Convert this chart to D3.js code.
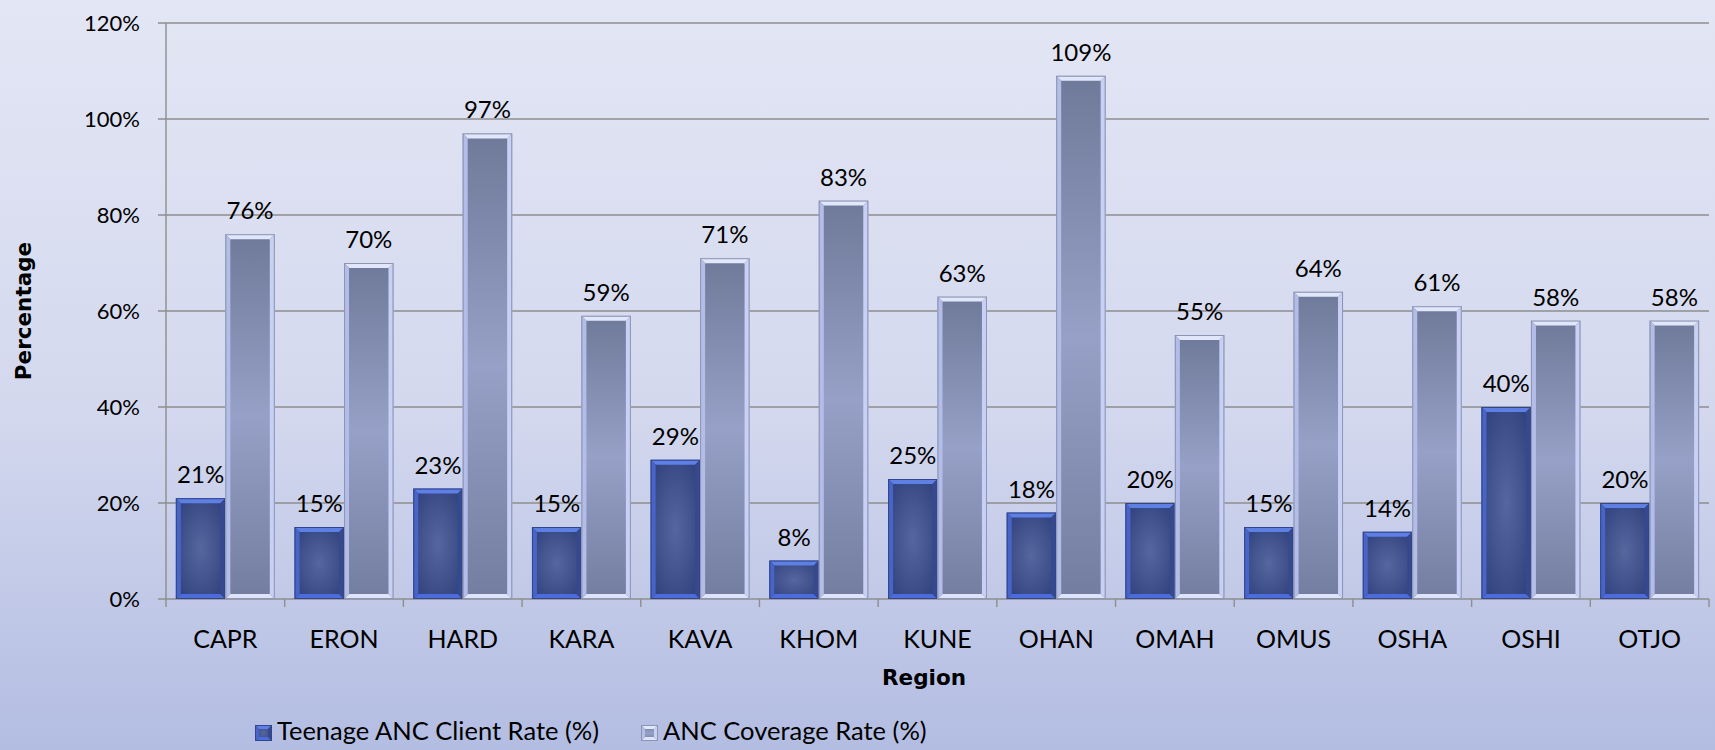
<!DOCTYPE html>
<html>
<head>
<meta charset="utf-8">
<script src="https://cdn.jsdelivr.net/npm/d3@7"></script>
<style>
  html, body { margin: 0; padding: 0; overflow: hidden; }
  svg { display: block; }
</style>
</head>
<body>
<svg id="chart"></svg>
<script>
const width = 1715;
const height = 750;

// data
const regions = ["CAPR", "ERON", "HARD", "KARA", "KAVA", "KHOM", "KUNE", "OHAN", "OMAH", "OMUS", "OSHA", "OSHI", "OTJO"];
const teenRate = [21, 15, 23, 15, 29, 8, 25, 18, 20, 15, 14, 40, 20];
const coverageRate = [76, 70, 97, 59, 71, 83, 63, 109, 55, 64, 61, 58, 58];
const seriesNames = ["Teenage ANC Client Rate (%)", "ANC Coverage Rate (%)"];
const yTicks = [0, 20, 40, 60, 80, 100, 120];

const margin = { top: 23, left: 166, right: 6, bottom: 151 };
const labelFont = "Lato, 'Open Sans', sans-serif";
const titleFont = "'DejaVu Sans', sans-serif";

const svg = d3.select("#chart")
  .attr("width", width)
  .attr("height", height)
  .attr("font-family", labelFont);
const defs = svg.append("defs");

// background gradient
const bg = defs.append("linearGradient").attr("id", "bg").attr("x1", 0).attr("y1", 0).attr("x2", 0).attr("y2", 1);
bg.append("stop").attr("offset", "0%").attr("stop-color", "#e3e6f4");
bg.append("stop").attr("offset", "55%").attr("stop-color", "#d3d8ee");
bg.append("stop").attr("offset", "100%").attr("stop-color", "#b3bde2");
svg.append("rect").attr("width", width).attr("height", height).attr("fill", "url(#bg)");

// bar fills
const darkFill = defs.append("radialGradient").attr("id", "darkFill").attr("cx", 0.5).attr("cy", 0.5).attr("r", 0.7);
darkFill.append("stop").attr("offset", "0%").attr("stop-color", "#56679f");
darkFill.append("stop").attr("offset", "100%").attr("stop-color", "#2d3d7a");

const lightFill = defs.append("linearGradient").attr("id", "lightFill").attr("x1", 0).attr("y1", 0).attr("x2", 0).attr("y2", 1);
lightFill.append("stop").attr("offset", "0%").attr("stop-color", "#6f7999");
lightFill.append("stop").attr("offset", "50%").attr("stop-color", "#97a1c7");
lightFill.append("stop").attr("offset", "100%").attr("stop-color", "#737d9f");

const styles = [
  { fill: "url(#darkFill)", top: "#5e7fe4", left: "#4764c6", right: "#36498f", bottom: "#4c6cdb", edge: "#34468a" },
  { fill: "url(#lightFill)", top: "#e1e7fb", left: "#b3bde8", right: "#c8d1f5", bottom: "#dce3fa", edge: "#8c95b2" },
];

const x = d3.scaleBand().domain(regions).range([margin.left, width - margin.right]).paddingInner(0).paddingOuter(0);
const x1 = d3.scaleBand().domain([0, 1]).range([0, x.bandwidth()]).paddingOuter(0.2).paddingInner(0);
const y = d3.scaleLinear().domain([0, 120]).range([height - margin.bottom, margin.top]);

// gridlines
svg.append("g")
  .selectAll("line")
  .data(yTicks)
  .join("line")
  .attr("x1", margin.left - 8)
  .attr("x2", width - margin.right)
  .attr("y1", (d) => y(d))
  .attr("y2", (d) => y(d))
  .attr("stroke", "#8e8e8e")
  .attr("stroke-width", 1.4);

// y axis labels
svg.append("g")
  .selectAll("text")
  .data(yTicks)
  .join("text")
  .attr("x", margin.left - 26)
  .attr("y", (d) => y(d))
  .attr("dy", "0.36em")
  .attr("text-anchor", "end")
  .attr("font-size", 22)
  .text((d) => d + "%");

// y axis line
svg.append("line")
  .attr("x1", margin.left).attr("x2", margin.left)
  .attr("y1", y(120)).attr("y2", y(0) + 8)
  .attr("stroke", "#8e8e8e").attr("stroke-width", 1.4);

// x ticks at band boundaries
const boundaries = regions.map((r) => x(r) + x.bandwidth());
svg.append("g")
  .selectAll("line")
  .data(boundaries)
  .join("line")
  .attr("x1", (d) => d).attr("x2", (d) => d)
  .attr("y1", y(0)).attr("y2", y(0) + 8)
  .attr("stroke", "#8e8e8e").attr("stroke-width", 1.4);

// bevelled bar drawing
function drawBevelBar(g, bx0, bx1, by0, by1, st, b) {
  const bb = Math.min(b, (by1 - by0) / 2);
  g.append("rect").attr("x", bx0).attr("y", by0).attr("width", bx1 - bx0).attr("height", by1 - by0).attr("fill", st.fill);
  const polys = [
    { pts: [[bx0, by0], [bx1, by0], [bx1 - b, by0 + bb], [bx0 + b, by0 + bb]], c: st.top },
    { pts: [[bx0, by1], [bx1, by1], [bx1 - b, by1 - bb], [bx0 + b, by1 - bb]], c: st.bottom },
    { pts: [[bx0, by0], [bx0 + b, by0 + bb], [bx0 + b, by1 - bb], [bx0, by1]], c: st.left },
    { pts: [[bx1, by0], [bx1 - b, by0 + bb], [bx1 - b, by1 - bb], [bx1, by1]], c: st.right },
  ];
  g.selectAll(null)
    .data(polys)
    .join("polygon")
    .attr("points", (p) => p.pts.map((q) => q.join(",")).join(" "))
    .attr("fill", (p) => p.c);
  g.append("rect").attr("x", bx0 + 0.5).attr("y", by0 + 0.5).attr("width", bx1 - bx0 - 1).attr("height", by1 - by0 - 1)
    .attr("fill", "none").attr("stroke", st.edge).attr("stroke-width", 1);
}

const series = [teenRate, coverageRate];
const barGroup = svg.append("g");
regions.forEach((r, i) => {
  series.forEach((vals, s) => {
    const bx0 = x(r) + x1(s);
    const bx1 = bx0 + x1.bandwidth();
    drawBevelBar(barGroup.append("g"), bx0, bx1, y(vals[i]), y(0), styles[s], 5);
  });
});

// value labels
const labelGroup = svg.append("g");
series.forEach((vals, s) => {
  labelGroup.selectAll(null)
    .data(regions)
    .join("text")
    .attr("x", (r) => x(r) + x1(s) + x1.bandwidth() / 2)
    .attr("y", (r, i) => y(vals[i]) - 15)
    .attr("text-anchor", "middle")
    .attr("font-size", 24)
    .text((r, i) => vals[i] + "%");
});

// category labels
svg.append("g")
  .selectAll("text")
  .data(regions)
  .join("text")
  .attr("x", (r) => x(r) + x.bandwidth() / 2)
  .attr("y", y(0) + 49)
  .attr("text-anchor", "middle")
  .attr("font-size", 25)
  .text((r) => r);

// axis titles
svg.append("text")
  .attr("x", 924)
  .attr("y", 685)
  .attr("text-anchor", "middle")
  .attr("font-family", titleFont)
  .attr("font-weight", "bold")
  .attr("font-size", 21.5)
  .text("Region");

svg.append("text")
  .attr("transform", `translate(31, ${y(60)}) rotate(-90)`)
  .attr("text-anchor", "middle")
  .attr("font-family", titleFont)
  .attr("font-weight", "bold")
  .attr("font-size", 21.5)
  .text("Percentage");

// legend
const legendX = [255, 641];
const legend = svg.append("g");
seriesNames.forEach((name, s) => {
  const lg = legend.append("g");
  drawBevelBar(lg, legendX[s], legendX[s] + 17, 725, 741, styles[s], 4);
  lg.append("text")
    .attr("x", legendX[s] + 22)
    .attr("y", 740)
    .attr("font-size", 25.5)
    .text(name);
});
</script>
</body>
</html>
